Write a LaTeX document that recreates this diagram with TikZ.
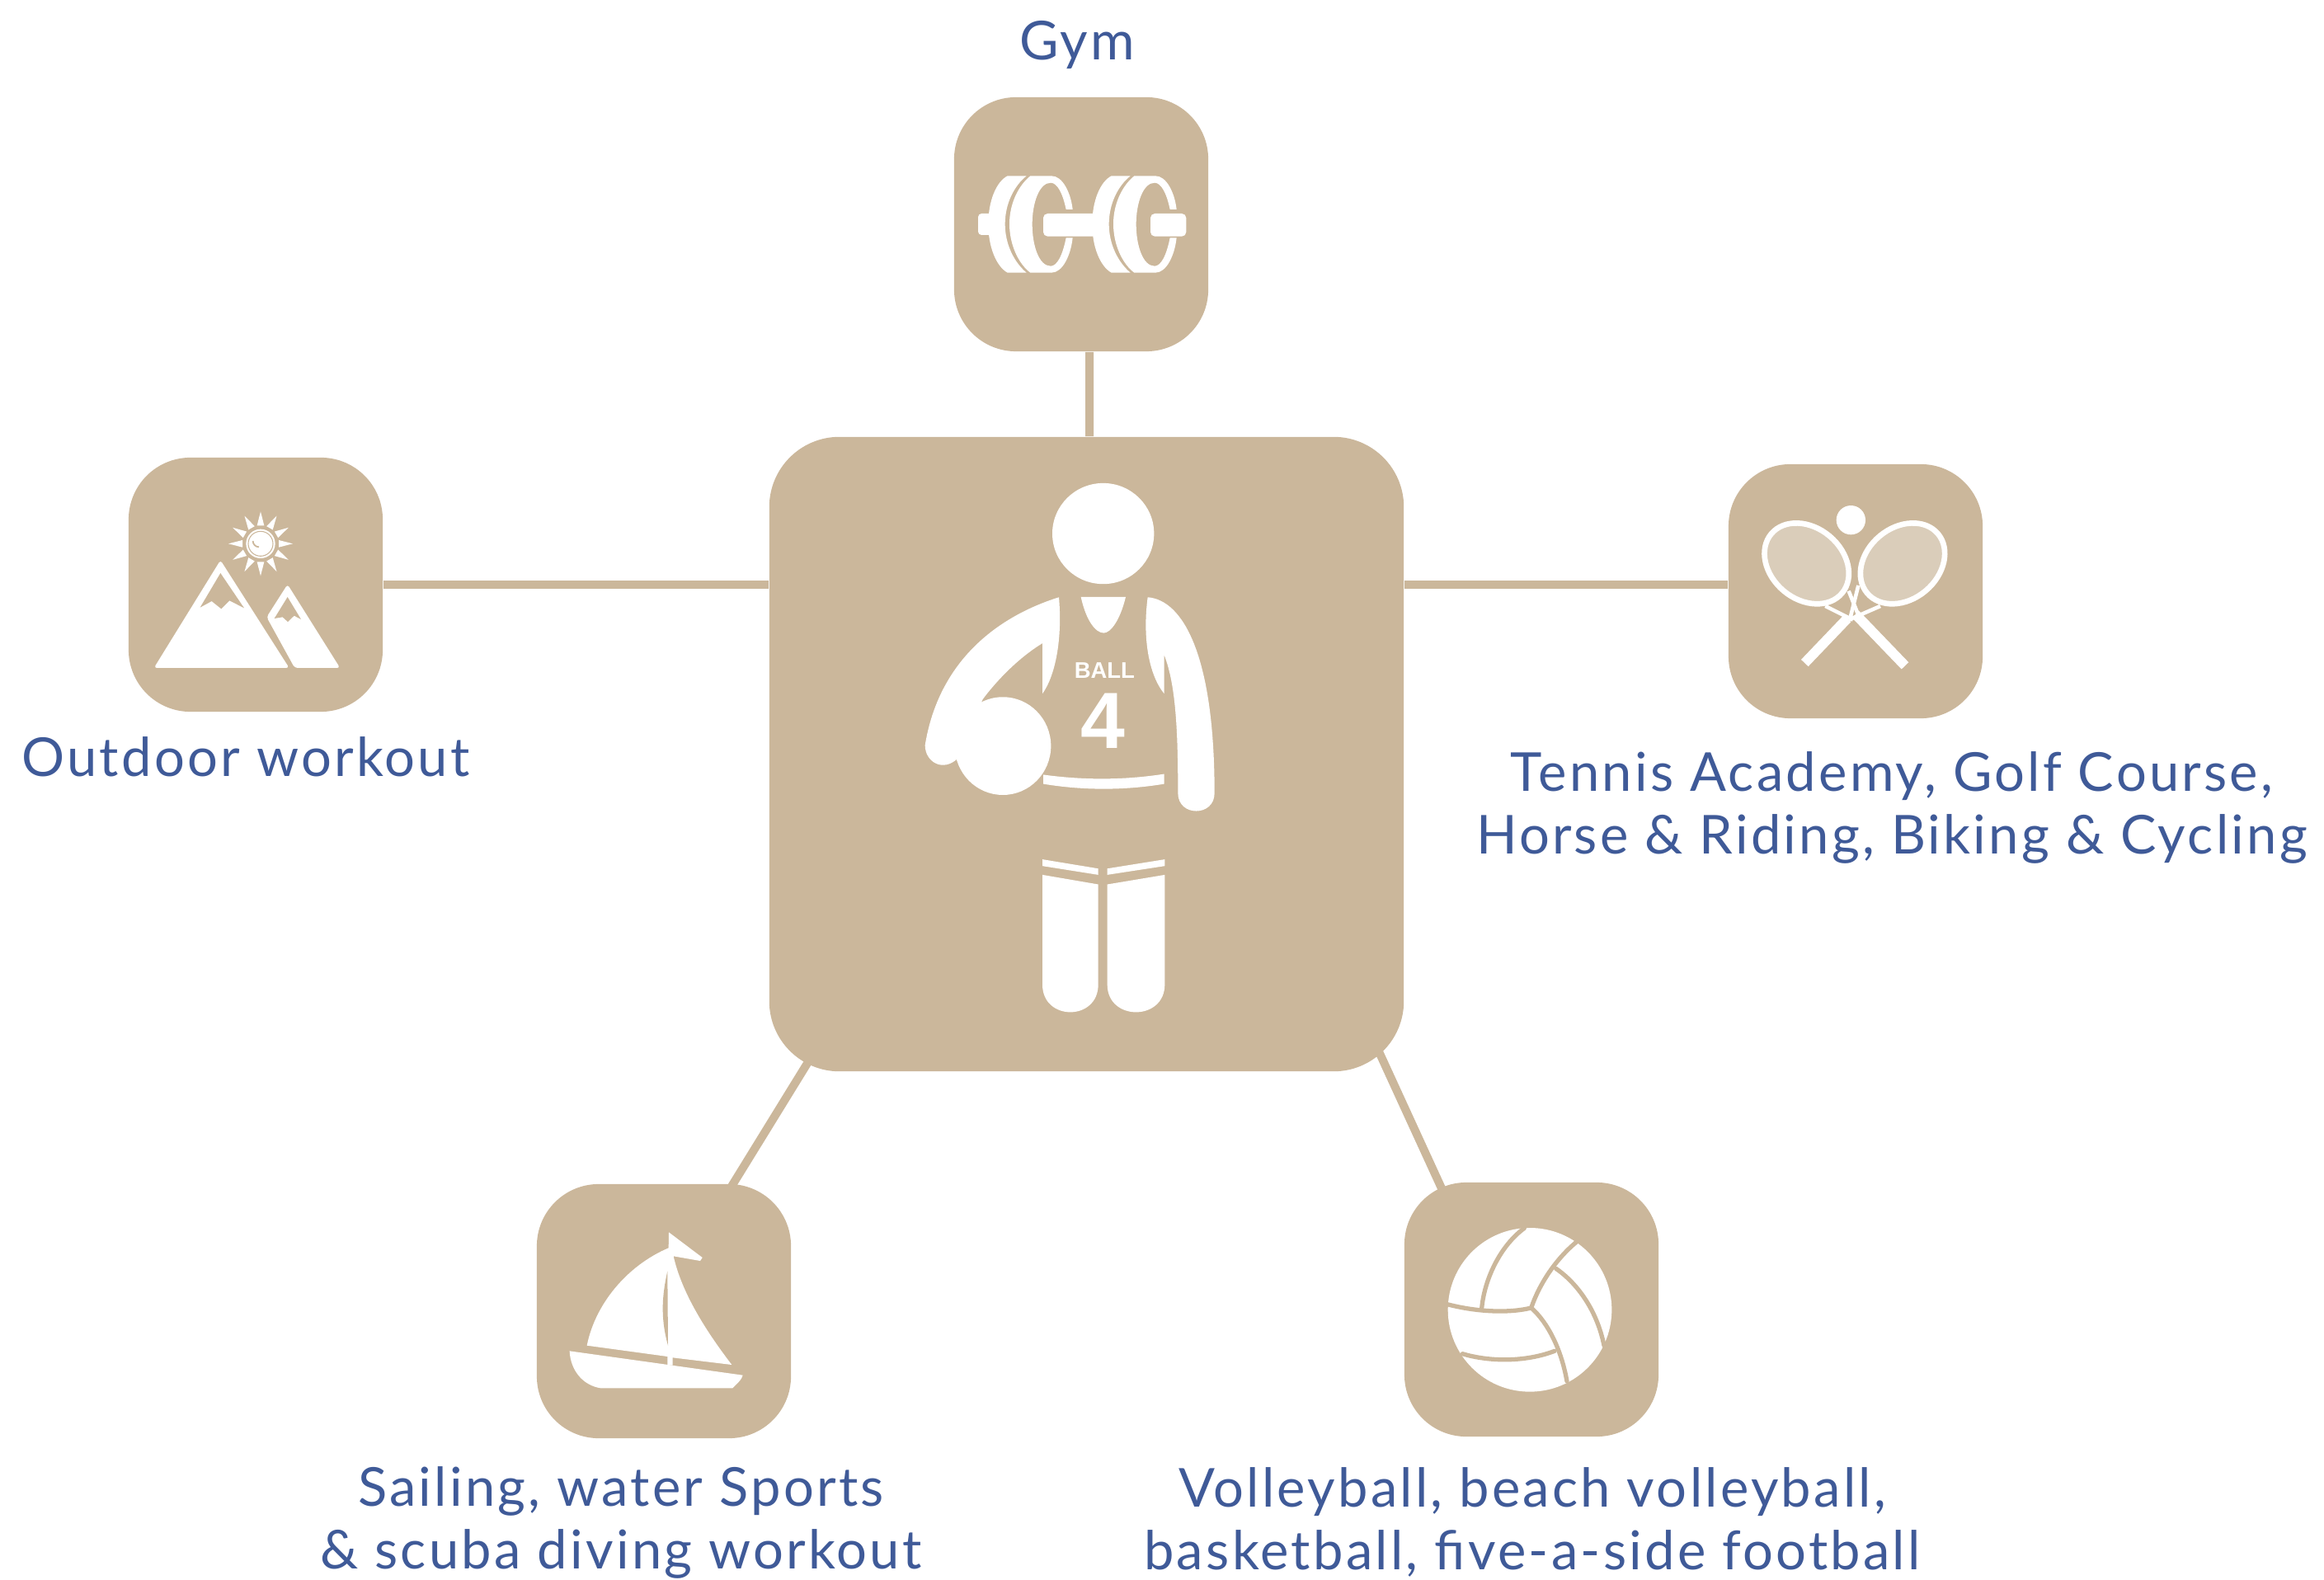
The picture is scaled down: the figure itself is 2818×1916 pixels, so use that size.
\documentclass[tikz,border=0pt]{standalone}
\usepackage{fontspec}
\setmainfont{Lato}[LetterSpace=5]
\newfontfamily\shirtfont{Liberation Sans}[Scale=1]
\usetikzlibrary{backgrounds}
\definecolor{sand}{HTML}{CBB79B}
\definecolor{sandnet}{HTML}{DACDBA}
\definecolor{inkblue}{HTML}{3F5A98}
\tikzset{
  smallbox/.style={fill=sand,rounded corners=0.75cm,minimum size=3.08cm,inner sep=0pt},
  bigbox/.style={fill=sand,rounded corners=0.85cm,minimum size=7.69cm,inner sep=0pt},
  link/.style={draw=sand,line width=2.85pt},
  sporttext/.style={text=inkblue,align=center,inner sep=0pt,font=\fontsize{18.5}{21.6}\selectfont},
  seam/.style={draw=sand,line width=1.5pt,line cap=round},
  frame/.style={draw=white,fill=sandnet,line width=1.9pt}
}
\begin{document}
\begin{tikzpicture}[x=0.01cm,y=-0.01cm]
      \useasboundingbox (0,0) rectangle (2818,1916);
      \node[bigbox] (main) at (1317.5,914.5) {};
      \node[smallbox] (gym) at (1311,272) {};
      \node[smallbox] (outdoor) at (310,709) {};
      \node[smallbox] (tennis) at (2250,717) {};
      \node[smallbox] (sailing) at (805,1590) {};
      \node[smallbox] (volley) at (1857,1588) {};

      \node[sporttext] (gymtext) at (1306,55) {Gym};
      \node[sporttext] (outdoortext) at (298,918) {Outdoor workout};
      \node[sporttext] (tennistext) at (2294,979) {Tennis Academy, Golf Course,\\Horse \& Riding, Biking \& Cycling};
      \node[sporttext] (sailingtext) at (753,1846) {Sailing, water Sports\\\& scuba diving workout};
      \node[sporttext] (volleytext) at (1858,1846) {Volleyball, beach volleyball,\\basketball, five-a-side football};

      \begin{scope}[on background layer]
        \draw[link] ([xshift=0.1cm]gym.south) -- ([xshift=0.035cm]main.north);
        \draw[link] (outdoor.east) -- (outdoor.east -| main.west);
        \draw[link] (outdoor.east -| main.east) -- (outdoor.east -| tennis.west);
        \draw[link] ([shift={(-321,-39)}]main.south) -- ([shift={(78,10)}]sailing.north);
        \draw[link] ([shift={(347,-41)}]main.south) -- ([shift={(-97,34)}]volley.north);
      \end{scope}

      % player
      \begin{scope}[shift={(1080,560)},xscale=1/3,yscale=1/2.24]
        \fill[white] (773,195) ellipse (185 and 137);
        \fill[white] (408,772) ellipse (175 and 133);
        \fill[white] (692,367) -- (855,367) ..controls (835,430) and (800,465) .. (775,465)
			..controls (745,465) and (710,430) .. (692,367) -- cycle;
        \fill[white] (612,368) ..controls (390,420) and (175,540) .. (125,770)
			..controls (125,815) and (190,845) .. (245,805) -- (335,645) ..controls (390,590) and (470,530) .. (552,493)
			-- (552,630) ..controls (600,580) and (625,480) .. (612,368) -- cycle;
        \fill[white] (935,368) ..controls (1060,375) and (1178,520) .. (1178,900)
			..controls (1178,965) and (1045,965) .. (1045,900)
			..controls (1045,750) and (1040,610) .. (995,525) -- (995,630)
			..controls (940,580) and (915,480) .. (935,368) -- cycle;
        \fill[white] (555,850) ..controls (700,865) and (850,865) .. (995,848) -- (995,875)
			..controls (850,893) and (700,893) .. (555,875) -- cycle;
        \fill[white] (552,1080) -- (755,1105) -- (755,1122) -- (552,1098) -- cycle;
        \fill[white] (997,1080) -- (788,1105) -- (788,1122) -- (997,1098) -- cycle;
        \fill[white] (552,1122) -- (755,1148) -- (755,1420) ..controls (755,1520) and (552,1520) .. (552,1420) -- cycle;
        \fill[white] (997,1122) -- (788,1148) -- (788,1420) ..controls (788,1520) and (997,1520) .. (997,1420) -- cycle;
        \node[text=white,inner sep=0pt,font=\shirtfont\bfseries\fontsize{7.8}{8}\selectfont] (shirtname) at (778,567) {BALL};
        \node[text=white,inner sep=0pt,font=\shirtfont\bfseries\fontsize{27.5}{28}\selectfont] (shirtnumber) at (773,703) {4};
      \end{scope}

      % dumbbell
      \begin{scope}[shift={(1150,110)},scale=1/3]
        \fill[white,rounded corners=1.2pt] (108,447) rectangle (170,525);
        \fill[white,rounded corners=1.5pt] (345,447) rectangle (540,530);
        \fill[white,rounded corners=1.5pt] (735,447) rectangle (865,530);
        \foreach\i in {0,378} {
          \fill[white,shift={(\i,0)}] (215,310) ..controls (175,330) and (145,400) .. (145,485)
			..controls (145,570) and (175,640) .. (215,662) -- (284,662)
			..controls (240,625) and (206,560) .. (206,485) ..controls (206,410) and (240,345) .. (284,310) -- cycle;
          \fill[white,shift={(\i,0)}] (298,310) -- (375,310) ..controls (415,310) and (445,370) .. (452,432) -- (428,432)
			..controls (415,370) and (395,335) .. (372,335) ..controls (330,335) and (305,410) .. (305,485)
			..controls (305,565) and (330,638) .. (372,638) ..controls (395,638) and (415,600) .. (428,535) -- (452,535)
			..controls (445,600) and (415,662) .. (375,662) -- (298,662)
			..controls (255,630) and (222,560) .. (222,485) ..controls (222,410) and (255,345) .. (298,310) -- cycle;
        }
      \end{scope}

      % mountains
      \begin{scope}[shift={(150,550)},scale=1/3]
        \fill[white,rounded corners=1pt] (352,388) -- (602,780) -- (110,780) -- cycle;
        \fill[sand] (352,435) -- (278,560) -- (320,537) -- (355,565) -- (385,535) -- (438,562) -- cycle;
        \fill[white,rounded corners=1pt] (596,476) -- (787,780) -- (622,780) -- (520,595) -- cycle;
        \fill[sand] (596,522) -- (548,600) -- (578,595) -- (597,612) -- (620,590) -- (645,603) -- cycle;
        \fill[white] (498,328) circle (53);
        \draw[sand,line width=0.3pt] (498,328) circle (45);
        \draw[sand,line width=0.5pt] (470,318) arc (180:90:22);
        \foreach\i in {0,30,...,330} {
          \fill[white,shift={(498,328)},rotate=\i] (66,-13) -- (117,0) -- (66,13) -- cycle;
        }
      \end{scope}

      % rackets
      \begin{scope}[shift={(2090,560)},scale=1/3]
        \fill[white] (463,212) circle (53);
        \draw[white,line width=3.4pt] (480,555) -- (660,742);
        \draw[white,line width=3.4pt] (450,570) -- (295,732);
        \draw[white,line width=1.3pt] (370,525) -- (470,575) (455,470) -- (495,570);
        \draw[white,line width=1.3pt] (570,525) -- (455,575) (490,450) -- (460,570);
        \draw[frame,rotate around={-40:(302,370)}] (302,370) ellipse (168 and 130);
        \draw[frame,rotate around={40:(651,370)}] (651,370) ellipse (168 and 130);
      \end{scope}

      % boat
      \begin{scope}[shift={(650,1435)},scale=1/3]
        \fill[white] (483,178) -- (605,270) -- (597,282) -- (500,265)
			..controls (530,400) and (620,540) .. (712,660) -- (497,634) -- (497,662) -- (478,662) -- (478,630)
			-- (185,590) ..controls (215,440) and (330,300) .. (482,235) -- cycle;
        \fill[sand] (478,320) ..controls (455,420) and (455,500) .. (480,590) -- cycle;
        \fill[white] (122,610) -- (752,698) ..controls (750,712) and (730,730) .. (715,745) -- (235,745)
			..controls (170,735) and (125,680) .. (122,610) -- cycle;
      \end{scope}

      % volleyball
      \begin{scope}[shift={(1700,1430)},scale=1/3]
        \fill[white] (465,475) circle (298);
        \draw[seam] (470,468) ..controls (500,380) and (560,290) .. (635,228);
        \draw[seam] (470,468) ..controls (530,520) and (580,620) .. (600,735);
        \draw[seam] (470,468) ..controls (380,490) and (260,480) .. (165,455);
        \draw[seam] (290,470) ..controls (300,360) and (360,240) .. (445,178);
        \draw[seam] (560,325) ..controls (640,380) and (710,480) .. (735,605);
        \draw[seam] (555,625) ..controls (450,665) and (320,665) .. (220,635);
      \end{scope}
    \end{tikzpicture}
\end{document}
